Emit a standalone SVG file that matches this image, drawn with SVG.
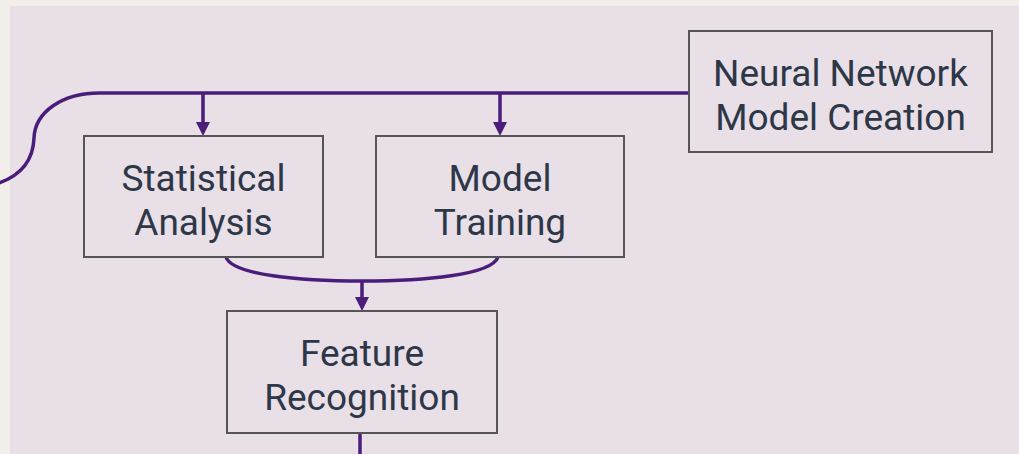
<svg xmlns="http://www.w3.org/2000/svg" width="1019" height="454" viewBox="0 0 1019 454">
<style>
.box{fill:#e8dfe7;stroke:#555555;stroke-width:2}
.lbl{font-family:Roboto,"Liberation Sans",sans-serif;font-size:37px;fill:#2d3748;text-anchor:middle}
.con{fill:none;stroke:#4a1d7a;stroke-width:3.5}
</style>
<rect width="1019" height="454" fill="#f2efeb"/>
<rect x="10" y="6" width="1009" height="448" fill="#e8dfe7"/>
<g id="connectors">
<path class="con" d="M689,93 L100,93 C62,93 35,112 34,138 C33,165 15,178 -4,184"/>
<path class="con" d="M203,93 L203,122"/>
<path d="M196,122 L210,122 L203,136 Z" fill="#4a1d7a"/>
<path class="con" d="M500,93 L500,122"/>
<path d="M493,122 L507,122 L500,136 Z" fill="#4a1d7a"/>
<path class="con" d="M226,257 C232,275 300,281 362,281 C424,281 492,275 498,257"/>
<path class="con" d="M362,281 L362,297"/>
<path d="M355,297 L369,297 L362,311 Z" fill="#4a1d7a"/>
<path class="con" d="M360,433 L360,454"/>
</g>
<g id="node-neural">
<rect class="box" x="689" y="31" width="303" height="121"/>
<text class="lbl" x="840.5" y="86">Neural Network</text>
<text class="lbl" x="840.5" y="130">Model Creation</text>
</g>
<g id="node-statistical">
<rect class="box" x="84" y="136" width="239" height="121"/>
<text class="lbl" x="203.5" y="191">Statistical</text>
<text class="lbl" x="203.5" y="235">Analysis</text>
</g>
<g id="node-training">
<rect class="box" x="376" y="136" width="248" height="121"/>
<text class="lbl" x="500" y="191">Model</text>
<text class="lbl" x="500" y="235">Training</text>
</g>
<g id="node-feature">
<rect class="box" x="227" y="311" width="270" height="122"/>
<text class="lbl" x="362" y="366">Feature</text>
<text class="lbl" x="362" y="410">Recognition</text>
</g>
</svg>
